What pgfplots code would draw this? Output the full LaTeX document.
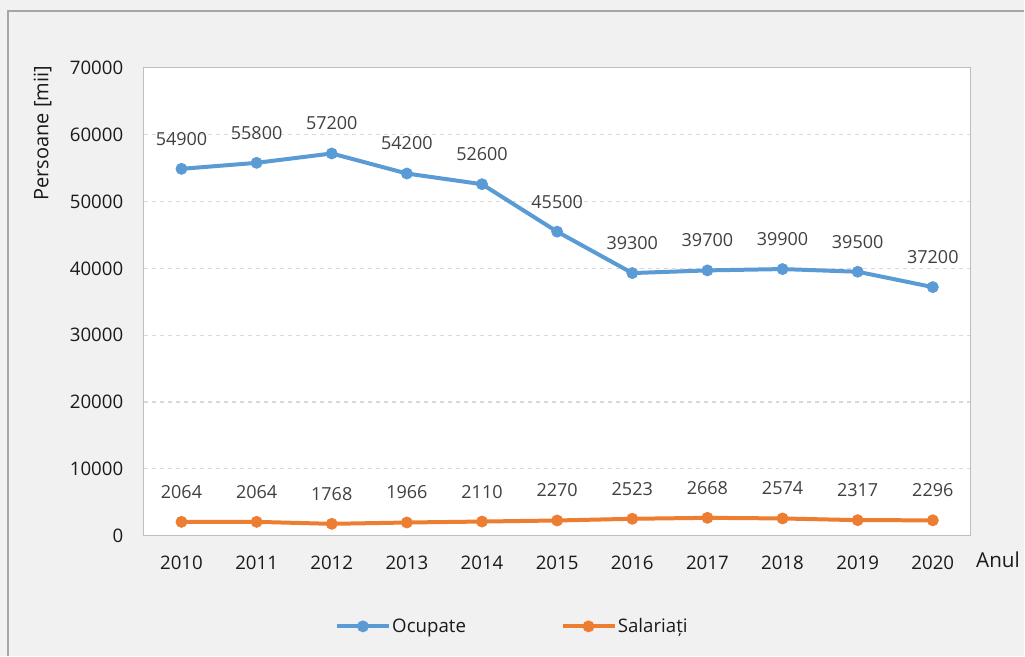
\documentclass[border=0pt]{standalone}
\usepackage{pgfplots}
\pgfplotsset{compat=1.18}
\usepackage{fontspec}
\setmainfont{Open Sans}
\definecolor{bg}{HTML}{F1F1F1}
\definecolor{frame}{HTML}{A6A6A6}
\definecolor{ocup}{HTML}{5B9BD5}
\definecolor{sal}{HTML}{ED7D31}
\definecolor{gridc}{HTML}{D9D9D9}
\definecolor{txt}{HTML}{1A1A1A}
\definecolor{lbl}{HTML}{404040}
\begin{document}
\begin{tikzpicture}
\fill[bg] (0,0) rectangle (768.75pt,492pt);
\draw[frame, line width=1pt] (6pt,0) -- (6pt,483.75pt) -- (768.75pt,483.75pt);
\begin{axis}[
  at={(108pt,90pt)}, anchor=south west,
  scale only axis, width=620.25pt, height=351pt,
  xmin=-0.5, xmax=10.5, ymin=0, ymax=70000,
  xtick={0,...,10},
  xticklabels={2010,2011,2012,2013,2014,2015,2016,2017,2018,2019,2020},
  ytick={0,10000,...,70000},
  scaled y ticks=false,
  /pgf/number format/1000 sep={},
  /pgf/number format/assume math mode=true,
  major tick length=0pt,
  axis background/.style={fill=white},
  axis line style={draw=black!25, line width=0.8pt},
  ymajorgrids, grid style={gridc, dashed, line width=0.8pt},
  tick label style={font=\fontsize{14}{16}\selectfont, text=txt},
  xticklabel style={yshift=-12pt},
  yticklabel style={xshift=-12pt},
  nodes near coords,
  nodes near coords style={font=\fontsize{13.5}{15}\selectfont, text=lbl, anchor=center, yshift=22.5pt},
  legend columns=2,
  legend style={draw=none, fill=none, at={(0.226,-0.194)}, anchor=west,
    font=\fontsize{14}{16}\selectfont, text=txt,
    /tikz/every even column/.append style={column sep=70pt},
    nodes={inner sep=1pt}},
  legend image code/.code={\draw[#1, mark repeat=2, mark phase=2] plot coordinates {(0pt,0pt) (19.5pt,0pt) (39pt,0pt)};},
]
\addplot[ocup, line width=3pt, mark=*, mark size=4.2pt, mark options={solid, fill=ocup, draw=ocup, line width=0.5pt}]
  coordinates {(0,54900) (1,55800) (2,57200) (3,54200) (4,52600) (5,45500) (6,39300) (7,39700) (8,39900) (9,39500) (10,37200)};
\addlegendentry{Ocupate}
\addplot[sal, line width=3pt, mark=*, mark size=4.2pt, mark options={solid, fill=sal, draw=sal, line width=0.5pt}]
  coordinates {(0,2064) (1,2064) (2,1768) (3,1966) (4,2110) (5,2270) (6,2523) (7,2668) (8,2574) (9,2317) (10,2296)};
\addlegendentry{Salariați}
\end{axis}
\node[rotate=90, font=\fontsize{15}{17}\selectfont, text=txt] at (31.9pt,391.9pt) {Persoane [mii]};
\node[font=\fontsize{15.5}{17}\selectfont, text=txt] at (749pt,72pt) {Anul};
\end{tikzpicture}
\end{document}
